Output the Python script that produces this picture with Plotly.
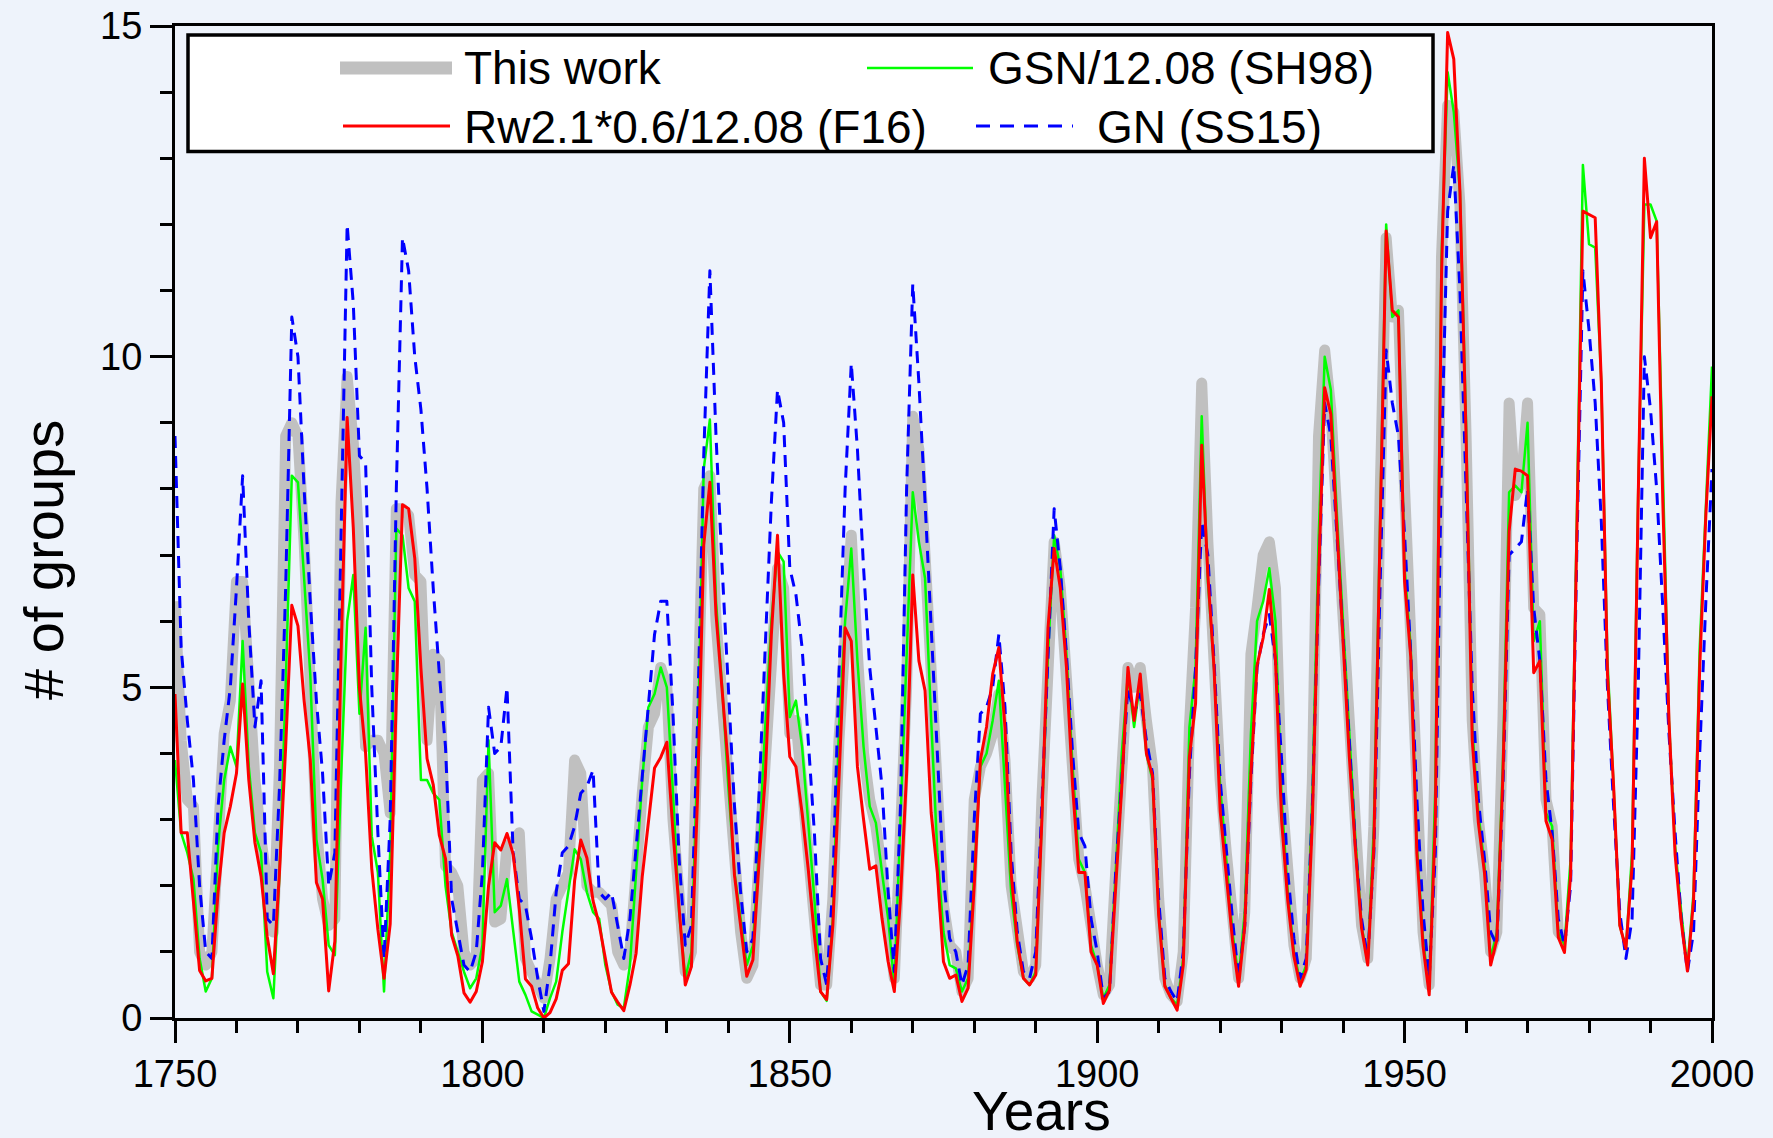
import plotly.graph_objects as go

# ---------------- data ----------------
years = list(range(1750, 2001))
this_work_years = list(range(1750, 1977))

this_work = [
    6.3, 4.2, 3.3, 3.2, 1.0, 0.8, 1.0, 2.8, 4.3, 4.8,
    6.6, 6.6, 5.0, 3.6, 2.7, 1.8, 1.3, 3.8, 8.8, 9.0,
    8.8, 7.2, 5.0, 2.9, 1.8, 1.4, 1.5, 7.8, 9.7, 8.7,
    7.0, 4.1, 4.2, 4.2, 4.0, 3.1, 7.7, 7.7, 7.6, 6.7,
    6.6, 4.2, 5.5, 5.4, 2.3, 2.2, 2.0, 1.0, 0.8, 0.9,
    3.6, 3.7, 1.45, 1.5, 2.6, 2.65, 2.8, 0.9, 0.7, 0.5,
    0.3, 0.9, 1.8, 2.0, 2.2, 3.9, 3.7, 2.0, 1.9, 1.9,
    1.8, 1.7, 1.0, 0.8, 1.0, 2.4, 3.4, 4.4, 4.6, 5.3,
    5.0, 3.0, 1.7, 0.7, 1.0, 5.0, 8.0, 8.2, 6.0, 4.8,
    3.6, 2.2, 1.3, 0.6, 0.8, 2.4, 4.0, 5.6, 6.8, 6.5,
    4.3, 4.5, 3.5, 2.6, 1.5, 0.5, 0.5, 1.8, 4.2, 6.0,
    7.3, 5.5, 4.0, 3.3, 2.9, 2.2, 1.3, 0.6, 2.8, 5.0,
    9.1, 8.6, 7.0, 5.0, 3.0, 1.7, 1.1, 1.0, 0.4, 0.6,
    3.3, 3.8, 4.0, 4.3, 4.9, 3.9, 2.0, 1.2, 0.7, 0.6,
    0.8, 3.3, 5.6, 7.2, 6.5, 5.3, 3.6, 2.4, 2.0, 1.3,
    0.8, 0.35, 0.5, 2.2, 3.8, 5.3, 5.0, 5.3, 4.5, 3.8,
    1.8, 0.6, 0.35, 0.25, 1.0, 4.4, 6.2, 9.6, 7.2, 5.3,
    3.6, 2.5, 1.5, 0.6, 1.6, 5.5, 6.2, 7.0, 7.2, 6.5,
    3.4, 2.1, 1.1, 0.6, 0.9, 3.6, 8.8, 10.1, 9.2, 7.6,
    6.1, 4.4, 2.6, 1.4, 0.9, 2.9, 7.8, 11.8, 10.6, 10.7,
    8.0, 5.6, 2.8, 1.3, 0.5, 4.0, 11.5, 13.8, 13.7, 12.3,
    8.8, 4.5, 3.0, 2.2, 1.0, 1.3, 4.5, 9.3, 7.9, 8.1,
    9.3, 6.2, 6.1, 3.3, 2.9, 1.3, 1.2,
]

gsn_sh98 = [
    3.9, 2.8, 2.5, 2.1, 0.9, 0.4, 0.6, 2.6, 3.6, 4.1,
    3.8, 5.7, 3.8, 2.8, 2.5, 0.7, 0.3, 2.2, 5.0, 8.2,
    8.1, 6.6, 5.2, 2.7, 2.1, 1.1, 0.95, 3.6, 6.0, 6.7,
    4.6, 5.9, 2.75, 2.2, 0.4, 2.5, 7.4, 7.3, 6.5, 6.3,
    3.6, 3.6, 3.4, 3.3, 2.0, 1.3, 1.0, 0.7, 0.45, 0.6,
    1.1, 4.2, 1.6, 1.7, 2.1, 1.3, 0.55, 0.35, 0.1, 0.05,
    0.0, 0.3, 0.55, 1.3, 1.9, 2.55, 2.4, 1.9, 1.6, 1.5,
    0.8, 0.4, 0.2, 0.15, 0.8, 2.2, 3.6, 4.7, 4.9, 5.3,
    5.0, 3.4, 1.6, 0.6, 1.0, 4.0, 8.3, 9.05, 6.3, 5.0,
    3.5, 2.2, 1.5, 0.8, 1.1, 2.6, 4.4, 6.0, 7.05, 6.9,
    4.55, 4.8, 4.1, 3.0, 1.8, 0.4, 0.26, 1.5, 4.4, 6.0,
    7.1, 5.4, 4.1, 3.2, 2.95, 2.2, 1.5, 0.5, 3.0, 5.5,
    7.95, 7.2, 6.65, 4.5, 2.5, 1.3, 0.8, 0.75, 0.4, 0.6,
    2.3, 3.8, 4.0, 4.5, 5.1, 3.5, 1.9, 1.1, 0.6, 0.5,
    0.7, 3.0, 5.5, 7.3, 6.8, 5.5, 3.8, 2.4, 2.2, 1.1,
    0.8, 0.3, 0.5, 2.2, 4.0, 5.2, 4.4, 5.1, 4.0, 3.6,
    1.6, 0.5, 0.3, 0.2, 0.9, 4.4, 5.3, 9.1, 6.6, 5.3,
    3.5, 2.4, 1.3, 0.6, 1.6, 4.3, 6.0, 6.3, 6.8, 6.0,
    3.3, 1.9, 1.0, 0.55, 0.8, 3.4, 7.2, 10.0, 9.5, 7.6,
    5.9, 4.2, 2.7, 1.4, 0.85, 2.9, 7.5, 12.0, 10.6, 10.7,
    6.8, 5.6, 2.6, 1.2, 0.4, 3.5, 11.5, 14.3, 13.7, 12.5,
    9.0, 4.4, 3.1, 2.3, 0.9, 1.3, 3.9, 7.95, 8.05, 7.95,
    9.0, 5.7, 6.0, 3.1, 2.9, 1.3, 1.1, 2.4, 7.5, 12.9,
    11.7, 11.65, 9.6, 5.4, 3.5, 1.4, 1.05, 2.5, 8.0, 12.3,
    12.3, 12.05, 8.3, 4.5, 2.6, 1.6, 0.75, 1.9, 5.6, 7.8,
    9.85,
]

rw_f16 = [
    4.9, 2.8, 2.8, 1.8, 0.72, 0.56, 0.6, 1.9, 2.8, 3.2,
    3.7, 5.05, 3.6, 2.65, 2.14, 1.23, 0.67, 2.22, 4.1, 6.24,
    5.93, 4.8, 3.91, 2.05, 1.8, 0.41, 1.16, 5.44, 9.08, 7.41,
    4.99, 4.0, 2.26, 1.34, 0.6, 1.42, 4.88, 7.76, 7.7, 6.95,
    5.29, 3.92, 3.53, 2.76, 2.41, 1.25, 0.94, 0.38, 0.24, 0.4,
    0.85, 2.0, 2.65, 2.54, 2.79, 2.48, 1.65, 0.59, 0.48, 0.15,
    0.0, 0.08, 0.29, 0.72, 0.82, 2.08, 2.69, 2.42, 1.77, 1.41,
    0.92, 0.39, 0.24, 0.11, 0.5, 0.98, 2.14, 2.92, 3.78, 3.94,
    4.17, 2.81, 1.62, 0.5, 0.78, 3.35, 7.15, 8.1, 6.1, 5.0,
    3.8, 2.16, 1.42, 0.63, 0.88, 2.36, 3.62, 5.8, 7.3, 5.2,
    3.95, 3.8, 3.1, 2.25, 1.25, 0.4, 0.28, 1.4, 3.6, 5.9,
    5.7, 3.8, 3.0, 2.25, 2.3, 1.5, 0.85, 0.4, 1.8, 3.7,
    6.7, 5.4, 4.95, 3.1, 2.2, 0.85, 0.6, 0.65, 0.25, 0.45,
    2.0, 3.9, 4.4, 5.2, 5.6, 4.4, 2.2, 1.15, 0.6, 0.5,
    0.65, 3.0, 5.9, 7.1, 6.5, 5.3, 3.5, 2.2, 2.2, 1.0,
    0.8, 0.22, 0.42, 2.0, 3.5, 5.3, 4.5, 5.2, 4.0, 3.66,
    1.55, 0.48, 0.3, 0.12, 0.8, 3.95, 4.76, 8.66, 6.7, 5.3,
    3.13, 2.18, 1.18, 0.48, 1.39, 3.69, 5.33, 5.75, 6.48, 5.41,
    2.98, 1.77, 0.93, 0.48, 0.73, 3.0, 6.64, 9.53, 9.13, 7.4,
    5.65, 3.96, 2.55, 1.36, 0.8, 2.6, 7.3, 11.9, 10.7, 10.6,
    6.6, 5.46, 2.48, 1.09, 0.35, 3.0, 11.2, 14.9, 14.5, 12.5,
    8.8, 4.2, 2.95, 2.19, 0.8, 1.18, 3.69, 7.36, 8.3, 8.27,
    8.2, 5.22, 5.4, 2.98, 2.7, 1.22, 0.99, 2.16, 7.25, 12.2,
    12.15, 12.1, 9.6, 5.2, 3.5, 1.4, 1.05, 2.3, 7.86, 13.0,
    11.8, 12.04, 7.8, 4.5, 2.47, 1.45, 0.71, 1.78, 5.3, 7.6,
    9.4,
]

gn_ss15 = [
    8.8, 5.6, 4.5, 3.6, 2.0, 1.0, 0.9, 3.2, 4.2, 5.0,
    6.5, 8.2, 6.0, 4.4, 5.1, 1.5, 1.4, 3.5, 6.5, 10.6,
    10.0, 8.0, 6.3, 4.8, 3.7, 2.0, 2.5, 7.5, 12.0, 10.8,
    8.5, 8.4, 5.0, 2.8, 0.9, 3.0, 8.0, 11.8, 11.3, 10.0,
    9.2, 8.0, 6.5, 5.2, 4.1, 1.8, 1.3, 0.8, 0.7, 1.0,
    2.2, 4.7, 4.0, 4.1, 5.0, 2.5, 1.8, 1.7, 1.2, 0.6,
    0.1, 0.8, 1.9, 2.5, 2.6, 2.9, 3.4, 3.5, 3.75, 1.9,
    1.8, 1.9, 1.4, 0.9, 1.5, 2.6, 3.7, 4.8, 5.8, 6.3,
    6.3, 4.6, 2.4, 1.1, 1.4, 4.5, 8.5, 11.3, 8.8, 6.8,
    5.0, 3.2, 1.9, 1.0, 1.2, 3.4, 5.5, 7.8, 9.5, 9.0,
    6.8, 6.4, 5.6, 4.2, 2.8, 0.9, 0.5, 2.0, 5.2, 8.0,
    9.9, 8.6, 6.8, 5.3, 4.4, 3.5, 1.9, 0.7, 3.2, 8.0,
    11.1, 9.6, 7.8, 5.9, 4.0, 2.1, 1.2, 1.0, 0.5, 0.8,
    3.0, 4.6, 4.7, 5.0, 5.8, 4.7, 2.5, 1.3, 0.7, 0.6,
    1.0, 3.2, 5.5, 7.7, 6.8, 5.5, 4.0, 2.8, 2.6, 1.5,
    1.0, 0.3, 0.4, 2.2, 3.6, 5.0, 4.6, 4.9, 4.2, 3.7,
    1.8, 0.6, 0.4, 0.25, 1.0, 3.7, 5.3, 7.5, 7.0, 5.4,
    3.6, 2.5, 1.5, 0.6, 1.4, 3.6, 5.3, 5.8, 6.1, 5.4,
    3.9, 2.2, 1.2, 0.6, 0.9, 3.2, 6.5, 9.3, 8.8, 7.3,
    5.8, 4.2, 2.6, 1.5, 0.9, 2.5, 6.5, 10.1, 9.3, 8.8,
    7.3, 5.5, 3.3, 1.6, 0.6, 2.5, 8.5, 12.2, 12.9, 11.0,
    8.0, 5.0, 3.3, 2.4, 1.3, 1.1, 3.5, 7.0, 7.1, 7.2,
    8.0, 6.2, 5.4, 3.6, 2.8, 1.5, 1.1, 2.0, 7.0, 11.3,
    10.4, 9.3, 7.5, 5.0, 3.2, 1.6, 0.9, 1.5, 5.0, 10.0,
    9.2, 8.0, 6.2, 4.3, 2.8, 1.5, 0.7, 1.3, 4.0, 6.3,
    8.3,
]

x_tick_values = [1750, 1800, 1850, 1900, 1950, 2000]
y_tick_values = [0, 5, 10, 15]

legend_labels = ["This work", "Rw2.1*0.6/12.08 (F16)", "GSN/12.08 (SH98)", "GN (SS15)"]

# ---------------- layout geometry ----------------
W, H = 1773, 1138
ML, MR, MT, MB = 175, 61, 26, 120
PW, PH = W - ML - MR, H - MT - MB
BG = "#EEF3FB"
FONT = "Liberation Sans, Arial, sans-serif"


def px(xpix):
    return (xpix - ML) / PW


def py(ypix):
    return (H - MB - ypix) / PH


fig = go.Figure()

fig.add_trace(go.Scatter(x=this_work_years, y=this_work, mode="lines",
                         line=dict(color="#C0C0C0", width=11), name=legend_labels[0]))
fig.add_trace(go.Scatter(x=years, y=gsn_sh98, mode="lines",
                         line=dict(color="#00FF00", width=2.5), name=legend_labels[2]))
fig.add_trace(go.Scatter(x=years, y=gn_ss15, mode="lines",
                         line=dict(color="#0000FF", width=3, dash="12px,8px"), name=legend_labels[3]))
fig.add_trace(go.Scatter(x=years, y=rw_f16, mode="lines",
                         line=dict(color="#FF0000", width=3), name=legend_labels[1]))

axis_common = dict(showgrid=False, zeroline=False, linecolor="black", linewidth=3,
                   tickcolor="black", tickwidth=3, automargin=False)

fig.update_layout(
    width=W, height=H,
    margin=dict(l=ML, r=MR, t=MT, b=MB, pad=0, autoexpand=False),
    paper_bgcolor=BG, plot_bgcolor=BG,
    showlegend=False,
    font=dict(family=FONT, color="black"),
    xaxis=dict(range=[1750, 2000], tickmode="array", tickvals=x_tick_values,
               ticks="outside", ticklen=22, showline=True, mirror=True,
               tickfont=dict(size=38, family=FONT), ticklabelstandoff=-2,
               minor=dict(dtick=10, tick0=1750, ticks="outside", ticklen=12,
                          tickwidth=3, tickcolor="black"),
               **axis_common),
    yaxis=dict(range=[0, 15], tickmode="array", tickvals=y_tick_values,
               ticks="outside", ticklen=22, showline=True, mirror=True,
               tickfont=dict(size=38, family=FONT),
               minor=dict(dtick=1, tick0=0, ticks="outside", ticklen=12,
                          tickwidth=3, tickcolor="black"),
               **axis_common),
    xaxis2=dict(range=[1750, 2000], overlaying="x", side="top", anchor="y",
                tickmode="array", tickvals=x_tick_values, ticks="inside", ticklen=22,
                showticklabels=False, showline=False,
                minor=dict(dtick=10, tick0=1750, ticks="inside", ticklen=12,
                           tickwidth=3, tickcolor="black"),
                **axis_common),
    yaxis2=dict(range=[0, 15], overlaying="y", side="right", anchor="x",
                tickmode="array", tickvals=y_tick_values, ticks="inside", ticklen=22,
                showticklabels=False, showline=False,
                minor=dict(dtick=1, tick0=0, ticks="inside", ticklen=12,
                           tickwidth=3, tickcolor="black"),
                **axis_common),
)

# ---------------- legend (drawn box) ----------------
shapes = [
    dict(type="rect", xref="paper", yref="paper", x0=px(188), x1=px(1433), y0=py(151.5), y1=py(35),
         fillcolor="white", line=dict(color="black", width=3.5), layer="above"),
    dict(type="line", xref="paper", yref="paper", x0=px(340), x1=px(452), y0=py(68), y1=py(68),
         line=dict(color="#C0C0C0", width=13), layer="above"),
    dict(type="line", xref="paper", yref="paper", x0=px(343), x1=px(450), y0=py(126), y1=py(126),
         line=dict(color="#FF0000", width=3), layer="above"),
    dict(type="line", xref="paper", yref="paper", x0=px(867), x1=px(973), y0=py(68), y1=py(68),
         line=dict(color="#00FF00", width=2.5), layer="above"),
    dict(type="line", xref="paper", yref="paper", x0=px(976), x1=px(1073), y0=py(126), y1=py(126),
         line=dict(color="#0000FF", width=3, dash="14px,10px"), layer="above"),
]
fig.update_layout(shapes=shapes)

ann = []
for label, xp, yp in [(legend_labels[0], 462, 68), (legend_labels[1], 462, 127),
                      (legend_labels[2], 986, 68), (legend_labels[3], 1095, 127)]:
    ann.append(dict(text=label, xref="paper", yref="paper", x=px(xp), y=py(yp),
                    xanchor="left", yanchor="middle", showarrow=False,
                    font=dict(size=46, family=FONT, color="black")))
ann.append(dict(text="Years", xref="paper", yref="paper", x=px(1041), y=py(1111),
                xanchor="center", yanchor="middle", showarrow=False,
                font=dict(size=55, family=FONT, color="black")))
ann.append(dict(text="# of groups", xref="paper", yref="paper", x=px(43), y=py(560),
                xanchor="center", yanchor="middle", showarrow=False, textangle=-90,
                font=dict(size=56, family=FONT, color="black")))
fig.update_layout(annotations=ann)

post = """
document.body.style.margin='0';
document.body.style.padding='0';
document.body.style.background='%s';
document.documentElement.style.background='%s';
document.body.style.overflow='hidden';
document.querySelectorAll('.scatterlayer path.js-line').forEach(function(p){
  p.style.strokeLinejoin='round';
});
""" % (BG, BG)
fig.write_html("out.html", post_script=post, config={"displayModeBar": False})
